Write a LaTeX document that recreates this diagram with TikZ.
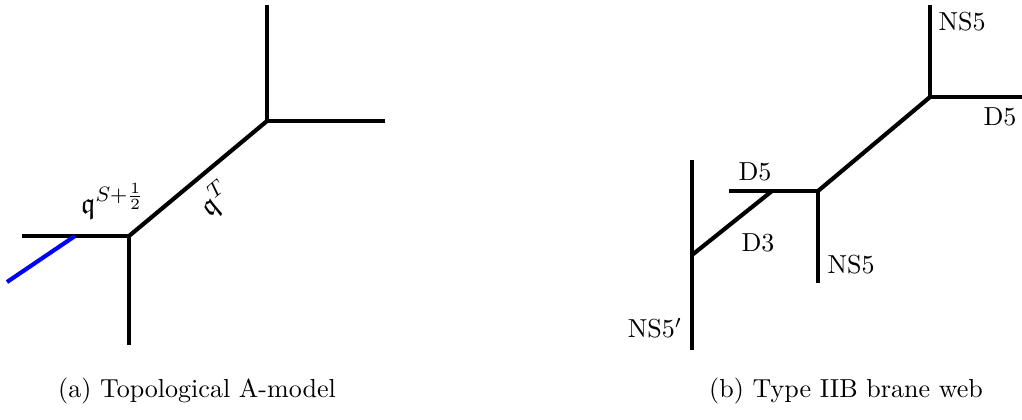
\documentclass[tikz,border=0pt]{standalone}
\usepackage{amsmath}
\usepackage{amssymb}
\usepackage{tikz}
\usetikzlibrary{positioning,calc}
\tikzset{
  brane/.style={line width=1.6pt, color=black},
  flav/.style={brane, color=blue},
  lbl/.style={font=\normalsize, inner sep=1pt},
  qlbl/.style={font=\fontsize{11.3}{13}\selectfont, inner sep=1pt},
  subcap/.style={font=\normalsize, anchor=center},
}

\begin{document}
\begin{tikzpicture}[x=0.0135cm,y=-0.0135cm]
  \useasboundingbox (0,0) rectangle (1022,419);
  % (a) topological vertex
  \coordinate (va) at (129,236);
  \coordinate (vb) at (267,121);
  \coordinate (la) at (22,236);
  \coordinate (da) at (129,345);
  \coordinate (ub) at (267,5);
  \coordinate (rb) at (385,121);
  \coordinate (bj) at (75,236);
  \coordinate (be) at (7,282);
  \draw[brane] (la) -- (va) -- (da);
  \draw[brane] (ub) -- (vb) -- (rb);
  \draw[brane] (va) -- node[qlbl, sloped, below=3pt] (qT) {$\mathfrak{q}^{T}$} (vb);
  \draw[flav] (bj) -- (be);
  \node[qlbl, anchor=base west] (qS) at (78,213) {$\mathfrak{q}^{S+\frac{1}{2}}$};
  % (b) brane web
  \coordinate (wa) at (818,191);
  \coordinate (wb) at (930,97);
  \coordinate (ut) at (930,5);
  \coordinate (rt) at (1022,97);
  \coordinate (dw) at (818,283);
  \coordinate (lw) at (729,191);
  \coordinate (jw) at (772,191);
  \coordinate (kw) at (692,255);
  \coordinate (nt) at (692,160);
  \coordinate (nb) at (692,350);
  \draw[brane] (ut) -- (wb) -- (rt);
  \draw[brane] (wb) -- (wa);
  \draw[brane] (lw) -- (wa) -- (dw);
  \draw[brane] (jw) -- (kw);
  \draw[brane] (nt) -- (nb);
  \node[lbl] (ns5t) at (962,22) {NS5};
  \node[lbl] (d5r) at (1000,117) {D5};
  \node[lbl] (d5l) at (755,172) {D5};
  \node[lbl] (d3) at (758,243) {D3};
  \node[lbl] (ns5b) at (851,265) {NS5};
  \node[lbl] (ns5p) at (655,328) {NS5$'$};
  % captions
  \node[subcap] (capa) at (197,391) {(a) Topological A-model};
  \node[subcap] (capb) at (846,391) {(b) Type IIB brane web};
\end{tikzpicture}
\end{document}
